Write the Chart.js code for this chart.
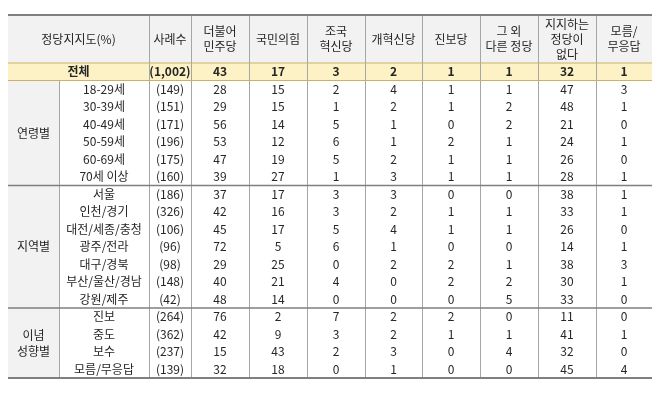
<!DOCTYPE html>
<html><head><meta charset="utf-8">
<script src="https://cdn.jsdelivr.net/npm/chart.js@4"></script>
<style>body{margin:0;background:#fff}canvas{display:block}</style>
</head><body>
<canvas id="c" width="663" height="410"></canvas>
<script>
const headers = [["정당지지도(%)"],["사례수"],["더불어","민주당"],["국민의힘"],["조국","혁신당"],["개혁신당"],["진보당"],["그 외","다른 정당"],["지지하는","정당이","없다"],["모름/","무응답"]];
const groups = [["연령별"],["지역별"],["이념","성향별"]];
const groupSizes = [6,7,4];
const rowLabels = ["전체","18-29세","30-39세","40-49세","50-59세","60-69세","70세 이상","서울","인천/경기","대전/세종/충청","광주/전라","대구/경북","부산/울산/경남","강원/제주","진보","중도","보수","모름/무응답"];
const samples = ["(1,002)","(149)","(151)","(171)","(196)","(175)","(160)","(186)","(326)","(106)","(96)","(98)","(148)","(42)","(264)","(362)","(237)","(139)"];
const minjoo = [43,28,29,56,53,47,39,37,42,45,72,29,40,48,76,42,15,32];
const gukhim = [17,15,15,14,12,19,27,17,16,17,5,25,21,14,2,9,43,18];
const joguk = [3,2,1,5,6,5,1,3,3,5,6,0,4,0,7,3,2,0];
const gaehyuk = [2,4,2,1,1,2,3,3,2,4,1,2,0,0,2,2,3,1];
const jinbo = [1,1,1,0,2,1,1,0,1,1,0,2,2,0,2,1,0,0];
const other = [1,1,2,2,1,1,1,0,1,1,0,1,2,5,0,1,4,0];
const none = [32,47,48,21,24,26,28,38,33,26,14,38,30,33,11,41,32,45];
const dunno = [1,3,1,0,1,0,1,1,1,0,1,3,1,0,0,1,0,4];
const series = [minjoo,gukhim,joguk,gaehyuk,jinbo,other,none,dunno];
// column edges in scale units
const edges = [8,59,149,191,249,307,365,422,480,538,596,652];

const tablePlugin = {
  id:'table',
  beforeDatasetsDraw(chart){
    const ctx = chart.ctx, xs = chart.scales.x, ys = chart.scales.y, ca = chart.chartArea;
    const X = v => xs.getPixelForValue(v);
    const rh = ys.getPixelForValue(1) - ys.getPixelForValue(0);
    const rowTop = i => ys.getPixelForValue(i) - rh/2;
    const hTop = 15, hBot = ca.top;
    ctx.save();
    // backgrounds
    ctx.fillStyle = '#f2f2f2';
    ctx.fillRect(X(edges[0]), hTop, X(edges[11])-X(edges[0]), hBot-hTop);
    ctx.fillRect(X(edges[0]), rowTop(1), X(edges[1])-X(edges[0]), ca.bottom-rowTop(1));
    ctx.fillStyle = '#fdf2c6';
    ctx.fillRect(X(edges[0]), rowTop(0), X(edges[11])-X(edges[0]), rh);
    // vertical lines
    ctx.strokeStyle = '#a6a6a6'; ctx.lineWidth = 1;
    for (let k=1;k<11;k++){
      if (k===1) continue;
      ctx.beginPath(); ctx.moveTo(Math.round(X(edges[k]))+0.5,hTop); ctx.lineTo(Math.round(X(edges[k]))+0.5,ca.bottom); ctx.stroke();
    }
    ctx.beginPath(); ctx.moveTo(Math.round(X(edges[1]))+0.5,rowTop(1)); ctx.lineTo(Math.round(X(edges[1]))+0.5,ca.bottom); ctx.stroke();
    // horizontal lines
    const hl = (y,w,c)=>{ctx.strokeStyle=c;ctx.lineWidth=w;ctx.beginPath();ctx.moveTo(X(edges[0]),y);ctx.lineTo(X(edges[11]),y);ctx.stroke();};
    hl(hTop,2,'#7f7f7f');
    hl(rowTop(0),1,'#c9b26a');
    hl(rowTop(1),1,'#c9b26a');
    let acc=1;
    for (let g=0; g<groupSizes.length; g++){ acc+=groupSizes[g]; if(g<groupSizes.length-1) hl(rowTop(acc),1.5,'#7f7f7f'); }
    hl(ca.bottom,2,'#7f7f7f');
    // text
    ctx.fillStyle='#262626'; ctx.textAlign='center'; ctx.textBaseline='middle';
    ctx.font = '12px "Noto Sans CJK KR"';
    headers.forEach((h,k)=>{
      const x0 = k===0 ? X(edges[0]) : X(edges[k+1]);
      const x1 = k===0 ? X(edges[2]) : X(edges[k+2]);
      const cx=(x0+x1)/2, cy=(hTop+hBot)/2, lh=15;
      h.forEach((t,j)=>ctx.fillText(t,cx,cy+(j-(h.length-1)/2)*lh));
    });
    let start=1;
    groups.forEach((g,gi)=>{
      const top=rowTop(start), bot=rowTop(start+groupSizes[gi]);
      const cx=(X(edges[0])+X(edges[1]))/2, cy=(top+bot)/2;
      g.forEach((t,j)=>ctx.fillText(t,cx,cy+(j-(g.length-1)/2)*16));
      start+=groupSizes[gi];
    });
    rowLabels.forEach((lab,i)=>{
      const cy = ys.getPixelForValue(i);
      ctx.font = i===0 ? 'bold 12px "Noto Sans CJK KR"' : '12px "Noto Sans CJK KR"';
      if (i===0) ctx.fillText(lab,(X(edges[0])+X(edges[2]))/2,cy);
      else ctx.fillText(lab,(X(edges[1])+X(edges[2]))/2,cy);
      ctx.fillText(samples[i],(X(edges[2])+X(edges[3]))/2,cy);
      series.forEach((s,k)=>ctx.fillText(String(s[i]),(X(edges[k+3])+X(edges[k+4]))/2,cy));
    });
    ctx.restore();
  }
};

new Chart(document.getElementById('c'),{
  type:'scatter',
  data:{labels:rowLabels,datasets:[{data:[],pointRadius:0}]},
  options:{
    responsive:false,animation:false,
    layout:{padding:{left:8,right:11,top:63,bottom:32}},
    plugins:{legend:{display:false},tooltip:{enabled:false}},
    scales:{
      x:{type:'linear',min:8,max:652,display:false},
      y:{type:'category',labels:rowLabels,display:false,offset:true}
    }
  },
  plugins:[tablePlugin]
});
</script>
</body></html>
